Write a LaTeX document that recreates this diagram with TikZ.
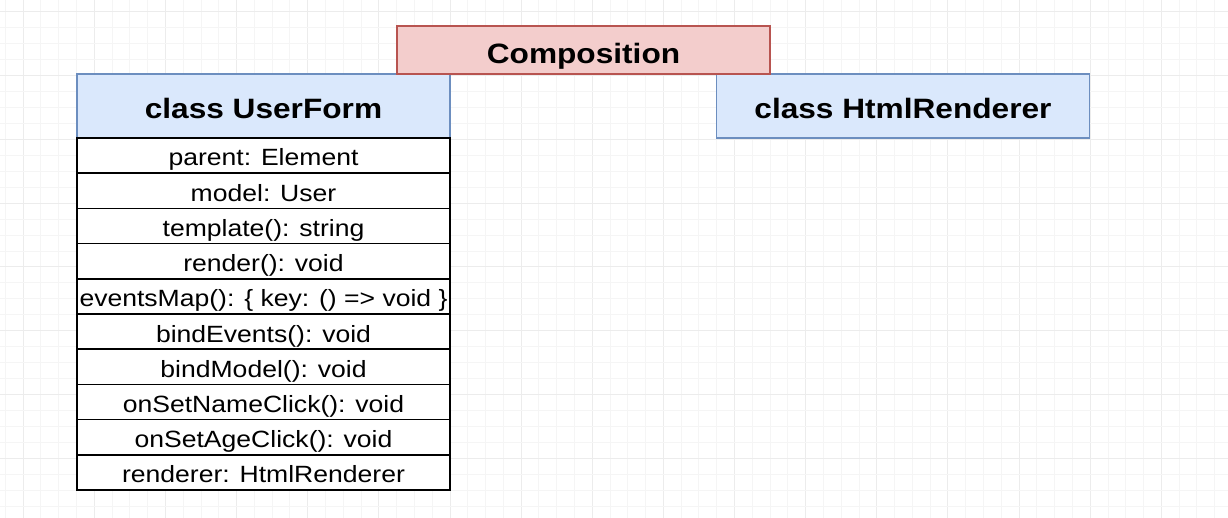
\documentclass[tikz,border=0pt]{standalone}
\usepackage{fontspec}
\setmainfont{Liberation Sans}[FakeStretch=1.13]
\usetikzlibrary{positioning}
\definecolor{gridminor}{RGB}{245,245,245}
\definecolor{gridmajor}{RGB}{236,236,236}
\definecolor{bannerfill}{RGB}{243,205,204}
\definecolor{bannerline}{RGB}{184,84,80}
\definecolor{classfill}{RGB}{218,232,252}
\definecolor{classline}{RGB}{108,142,191}

\tikzset{
  classhead/.style={draw=classline, fill=classfill, line width=1.3pt,
    minimum width=373pt, minimum height=64pt, inner sep=0pt, outer sep=0pt,
    text height=30pt, text depth=4pt,
    font=\fontsize{28}{30}\selectfont\bfseries},
  memberrow/.style={draw=black, fill=white, line width=1.6pt,
    minimum width=373pt, minimum height=35.2pt, inner sep=0pt, outer sep=0pt,
    text height=25pt, text depth=4.2pt,
    font=\fontsize{23.5}{25}\selectfont},
  banner/.style={draw=bannerline, fill=bannerfill, line width=1.3pt,
    minimum width=373pt, minimum height=48pt, inner sep=0pt, outer sep=0pt,
    text height=30.5pt, text depth=4pt,
    font=\fontsize{28}{30}\selectfont\bfseries}
}

\begin{document}
\begin{tikzpicture}[x=1pt, y=-1pt]
\useasboundingbox (0,0) rectangle (1228,518);
\fill[white] (0,0) rectangle (1228,518);
% Background grid
\foreach \k in {0,...,68} {
    \pgfmathsetmacro{\gx}{5.3+\k*17.784}
    \pgfmathtruncatemacro{\major}{mod(\k,4)==1}
    \ifnum\major=1
        \draw[gridmajor, line width=0.8pt] (\gx,0) -- (\gx,518);
    \else
        \draw[gridminor, line width=0.8pt] (\gx,0) -- (\gx,518);
    \fi
}
\foreach \k in {0,...,32} {
    \pgfmathsetmacro{\gy}{11.7+\k*15.95}
    \pgfmathtruncatemacro{\major}{mod(\k,4)==0}
    \ifnum\major=1
        \draw[gridmajor, line width=0.8pt] (0,\gy) -- (1228,\gy);
    \else
        \draw[gridminor, line width=0.8pt] (0,\gy) -- (1228,\gy);
    \fi
}

% Class UserForm with its members
\node[classhead, alias=row0] (userform) at (263.5,106) {class UserForm};
\foreach \member [count=\i, remember=\i as \prev (initially 0)] in
    {{parent: Element}, {model: User}, {template(): string}, {render(): void},
     {eventsMap(): \{ key: () => void \}}, {bindEvents(): void},
     {bindModel(): void}, {onSetNameClick(): void}, {onSetAgeClick(): void},
     {renderer: HtmlRenderer}} {
    \node[memberrow, below=0pt of row\prev] (row\i) {\member};
}

% Class HtmlRenderer
\node[classhead] (htmlrenderer) at (903,106) {class HtmlRenderer};

% Title banner
\node[banner] (composition) at (583.5,50) {Composition};
\end{tikzpicture}
\end{document}
